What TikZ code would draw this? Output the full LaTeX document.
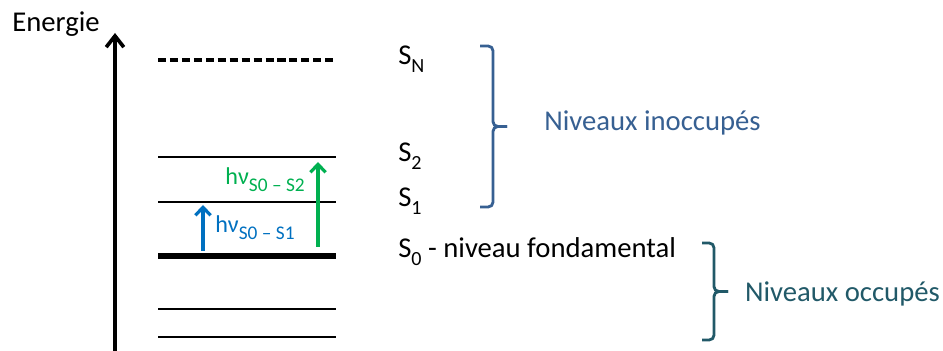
\documentclass[tikz,border=0pt]{standalone}
\usepackage{fontspec}
\setmainfont{Carlito}
\definecolor{upblue}{RGB}{55, 96, 146}
\definecolor{occteal}{RGB}{33, 89, 104}
\definecolor{photblue}{RGB}{0, 112, 192}
\definecolor{photgreen}{RGB}{0, 176, 80}
\usetikzlibrary{arrows.meta, positioning}
\newcommand{\idx}[2][0.7]{\raisebox{-0.25em}{\scalebox{#1}{#2}}}
\tikzset{
  niveau/.style={line width=2pt},
  txt/.style={font=\fontsize{20.4}{24}\selectfont, inner sep=0pt},
  hnu/.style={font=\fontsize{17.2}{20}\selectfont, inner sep=0pt},
  photon/.style={line width=2.3pt, -{Straight Barb[length=0.2cm, width=0.38cm]}},
  bracket/.style={line width=2pt, rounded corners=0.12cm},
}

\begin{document}
\begin{tikzpicture}
  \useasboundingbox (0,0) rectangle (23.575, 8.775);

  % Energy axis
  \coordinate (axbot) at (2.875, 0);
  \coordinate (axtop) at (2.875, 7.95);
  \draw[line width=2.6pt, -{Straight Barb[length=0.28cm, width=0.44cm]}] (axbot) -- (axtop);
  \node[txt, anchor=base west] (energie) at (0.3, 7.975) {Energie};

  % Levels
  \foreach \name/\y in {sn/7.275, s2/4.85, s1/3.725, s0/2.375, o1/1.05, o2/0.35} {
    \coordinate (\name-l) at (3.95, \y);
    \coordinate (\name-r) at (8.4, \y);
  }
  \draw[niveau, line width=2.4pt, dash pattern=on 5.7pt off 2.8pt] (sn-l) -- (sn-r);
  \foreach \name in {s2, s1, o1, o2}
    \draw[niveau] (\name-l) -- (\name-r);
  \draw[niveau, line width=3.8pt] (s0-l) -- (s0-r);

  % Level names
  \node[txt, anchor=base west] (lsn) at (9.95, 7.15) {S\idx{N}};
  \node[txt, anchor=base west] (ls2) at (9.95, 4.725) {S\idx{2}};
  \node[txt, anchor=base west] (ls1) at (9.95, 3.6) {S\idx{1}};
  \node[txt, anchor=base west] (ls0) at (9.95, 2.325) {S\idx{0} - niveau fondamental};

  % Photons
  \coordinate (b0) at (5.075, 2.5);
  \coordinate (b1) at (5.075, 3.65);
  \draw[photon, photblue] (b0) -- (b1);
  \node[hnu, photblue, anchor=base west] (hnu1) at (5.375, 2.95) {hν\idx[0.8]{S0 – S1}};
  \coordinate (g0) at (7.95, 2.6);
  \coordinate (g1) at (7.95, 4.725);
  \draw[photon, photgreen] (g0) -- (g1);
  \node[hnu, photgreen, anchor=base east] (hnu2) at (7.625, 4.15) {hν\idx[0.8]{S0 – S2}};

  % Braces
  \coordinate (ub-top) at (12.0, 7.625);
  \coordinate (ub-bot) at (12.0, 3.6);
  \coordinate (ub-tip) at (12.675, 5.6125);
  \draw[bracket, upblue] (ub-top) -- ++(0.325, 0) |- (ub-tip);
  \draw[bracket, upblue] (ub-bot) -- ++(0.325, 0) |- (ub-tip);
  \node[txt, upblue, anchor=base west] (inocc) at (13.6, 5.5) {Niveaux inoccupés};
  \coordinate (lb-top) at (17.55, 2.7);
  \coordinate (lb-bot) at (17.55, 0.275);
  \coordinate (lb-tip) at (18.2, 1.4875);
  \draw[bracket, occteal] (lb-top) -- ++(0.3, 0) |- (lb-tip);
  \draw[bracket, occteal] (lb-bot) -- ++(0.3, 0) |- (lb-tip);
  \node[txt, occteal, anchor=base west] (occ) at (18.62, 1.23) {Niveaux occupés};
\end{tikzpicture}
\end{document}
